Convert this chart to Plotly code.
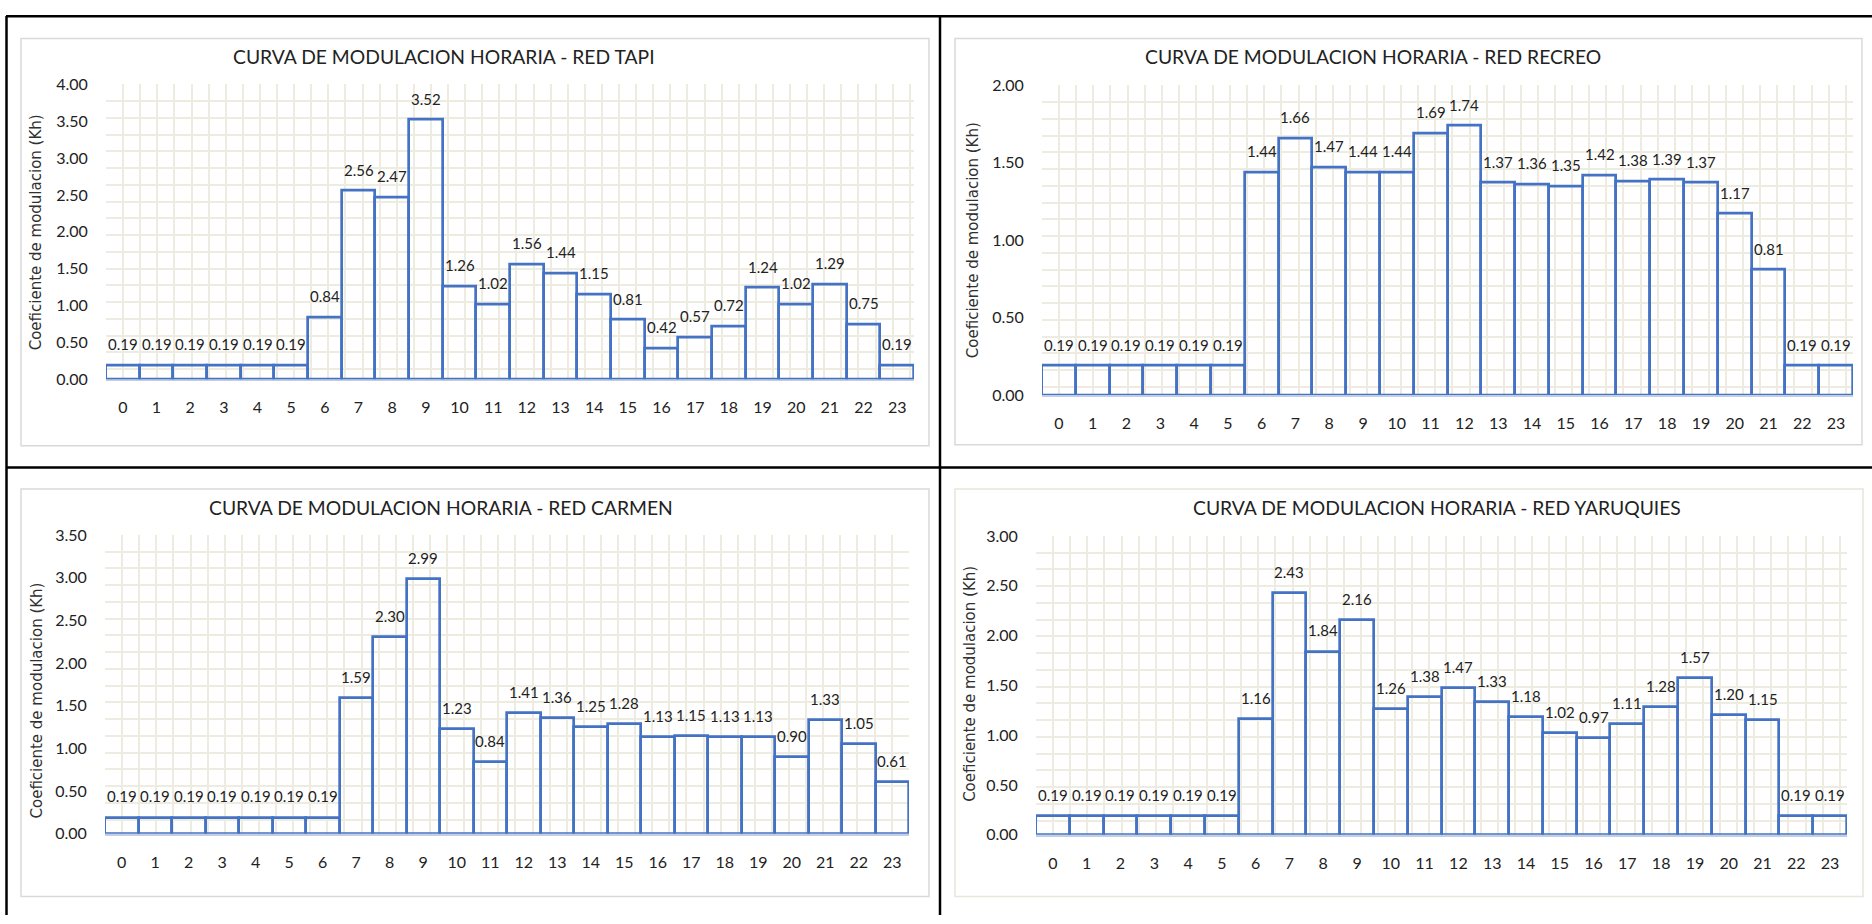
import plotly.graph_objects as go

# Hourly modulation coefficients (Kh) for each network, hours 0..23
hours = list(range(24))
tapi = [0.19, 0.19, 0.19, 0.19, 0.19, 0.19, 0.84, 2.56, 2.47, 3.52, 1.26, 1.02,
        1.56, 1.44, 1.15, 0.81, 0.42, 0.57, 0.72, 1.24, 1.02, 1.29, 0.75, 0.19]
recreo = [0.19, 0.19, 0.19, 0.19, 0.19, 0.19, 1.44, 1.66, 1.47, 1.44, 1.44, 1.69,
          1.74, 1.37, 1.36, 1.35, 1.42, 1.38, 1.39, 1.37, 1.17, 0.81, 0.19, 0.19]
carmen = [0.19, 0.19, 0.19, 0.19, 0.19, 0.19, 0.19, 1.59, 2.30, 2.99, 1.23, 0.84,
          1.41, 1.36, 1.25, 1.28, 1.13, 1.15, 1.13, 1.13, 0.90, 1.33, 1.05, 0.61]
yaruquies = [0.19, 0.19, 0.19, 0.19, 0.19, 0.19, 1.16, 2.43, 1.84, 2.16, 1.26, 1.38,
             1.47, 1.33, 1.18, 1.02, 0.97, 1.11, 1.28, 1.57, 1.20, 1.15, 0.19, 0.19]

titles = ["CURVA DE MODULACION HORARIA - RED TAPI",
          "CURVA DE MODULACION HORARIA - RED RECREO",
          "CURVA DE MODULACION HORARIA - RED CARMEN",
          "CURVA DE MODULACION HORARIA - RED YARUQUIES"]
y_max = [4.0, 2.0, 3.5, 3.0]
y_title = "Coeficiente de modulacion (Kh)"

W, H = 1872, 924
FONT = "Lato"
AXIS_TITLE_FONT = "DejaVu Sans"
TXT = "#222222"
BLUE = "#4472C4"
GRID = "#EEECE1"
PATTERN_PX = 17.1  # spacing of the background grid pattern, in pixels

# panel geometry in pixels: plot area (l, r, t, b), frame (l, r, t, b),
# title centre (x, y), axis-title centre (x, y)
panels = [
    dict(plot=(106, 914, 76, 377), frame=(21, 929, 29, 445), frame_col="#D9D9D9",
         title=(444, 47), ytit=(36, 227)),
    dict(plot=(1042, 1853, 77, 393), frame=(955, 1862, 29, 444), frame_col="#D9D9D9",
         title=(1373, 47), ytit=(973, 235)),
    dict(plot=(105, 909, 536, 841), frame=(21, 929, 489, 905), frame_col="#D9D9D9",
         title=(441, 508), ytit=(37, 705)),
    dict(plot=(1036, 1847, 537, 842), frame=(955, 1863, 489, 905), frame_col="#E8E6DA",
         title=(1437, 508), ytit=(970, 688)),
]
series = [tapi, recreo, carmen, yaruquies]


def px_x(v):
    return v / W


def px_y(v):
    return 1 - v / H


fig = go.Figure()
layout = dict(width=W, height=H, margin=dict(l=0, r=0, t=0, b=0),
              paper_bgcolor="white", plot_bgcolor="white", showlegend=False,
              bargap=0, font=dict(family=FONT, color=TXT))
annotations = []
shapes = []

for i, (p, vals) in enumerate(zip(panels, series)):
    n = "" if i == 0 else str(i + 1)
    l, r, t, b = p["plot"]
    cat_px = (r - l) / 24
    fig.add_trace(go.Bar(
        x=hours, y=vals, width=1,
        marker=dict(color="rgba(0,0,0,0)", line=dict(color=BLUE, width=2.7)),
        xaxis="x" + n, yaxis="y" + n, hoverinfo="x+y"))
    layout["xaxis" + n] = dict(
        domain=[px_x(l), px_x(r)], anchor="y" + n, range=[-0.5, 23.5],
        tickmode="array", tickvals=hours, ticktext=[str(h) for h in hours],
        showgrid=False, zeroline=False, showline=True, linecolor="#C3CEE0",
        linewidth=1.5, layer="below traces",
        ticks="outside", ticklen=13, tickcolor="rgba(0,0,0,0)",
        tickfont=dict(family=FONT, size=16, color=TXT),
        minor=dict(showgrid=True, gridcolor=GRID, gridwidth=1.5,
                   tick0=-0.5, dtick=PATTERN_PX / cat_px))
    ym = y_max[i]
    layout["yaxis" + n] = dict(
        domain=[px_y(b), px_y(t)], anchor="x" + n, range=[0, ym],
        tickmode="linear", tick0=0, dtick=0.5, tickformat=".2f",
        showgrid=False, zeroline=False, showline=False,
        ticks="outside", ticklen=14, tickcolor="rgba(0,0,0,0)",
        tickfont=dict(family=FONT, size=16, color=TXT),
        minor=dict(showgrid=True, gridcolor=GRID, gridwidth=1.5,
                   tick0=ym, dtick=ym * PATTERN_PX / (b - t)))
    # value labels above each bar
    for h, v in zip(hours, vals):
        annotations.append(dict(
            x=h, y=v, xref="x" + n, yref="y" + n, text=f"{v:.2f}",
            showarrow=False, yanchor="middle", yshift=21,
            font=dict(family=FONT, size=15, color=TXT)))
    # chart title
    tx, ty = p["title"]
    annotations.append(dict(
        x=px_x(tx), y=px_y(ty), xref="paper", yref="paper", text=titles[i],
        showarrow=False, xanchor="center", yanchor="middle",
        font=dict(family=FONT, size=19.3, color=TXT)))
    # vertical axis title
    ax, ay = p["ytit"]
    annotations.append(dict(
        x=px_x(ax), y=px_y(ay), xref="paper", yref="paper", text=y_title,
        showarrow=False, textangle=-90, xanchor="center", yanchor="middle",
        font=dict(family=AXIS_TITLE_FONT, size=15, color="#303030")))
    # chart frame
    fl, fr, ft, fb = p["frame"]
    shapes.append(dict(type="rect", xref="paper", yref="paper",
                       x0=px_x(fl), x1=px_x(fr), y0=px_y(fb), y1=px_y(ft),
                       line=dict(color=p["frame_col"], width=1.5), layer="below"))

# table rules separating the four charts
for x0, y0, x1, y1 in [(6, 6.5, W, 6.5), (6.5, 6, 6.5, H), (940, 6, 940, H), (6, 467, W, 467)]:
    shapes.append(dict(type="line", xref="paper", yref="paper",
                       x0=px_x(x0), y0=px_y(y0), x1=px_x(x1), y1=px_y(y1),
                       line=dict(color="black", width=2.5)))

layout["annotations"] = annotations
layout["shapes"] = shapes
fig.update_layout(**layout)
fig.write_html("out.html")
